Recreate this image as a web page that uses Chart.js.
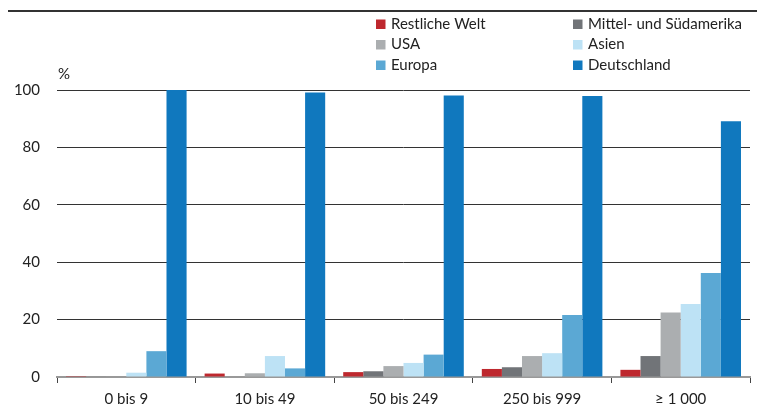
<!DOCTYPE html>
<html>
<head>
<meta charset="utf-8">
<script src="https://cdn.jsdelivr.net/npm/chart.js@4"></script>
<style>
html,body{margin:0;padding:0;background:#fff;}
#wrap{width:757px;height:408px;position:relative;}
</style>
</head>
<body>
<div id="wrap"><canvas id="c" width="757" height="408"></canvas></div>
<script>
const categories = ['0 bis 9', '10 bis 49', '50 bis 249', '250 bis 999', '\u2265 1 000'];
const seriesNames = ['Restliche Welt', 'Mittel- und Südamerika', 'USA', 'Asien', 'Europa', 'Deutschland'];
const restlicheWelt = [0.3, 1.2, 1.7, 2.8, 2.5];
const mittelSuedamerika = [0.2, 0, 2.0, 3.4, 7.3];
const usa = [0, 1.3, 3.8, 7.3, 22.5];
const asien = [1.5, 7.3, 4.9, 8.3, 25.4];
const europa = [9.0, 3.0, 7.8, 21.6, 36.2];
const deutschland = [100, 99.1, 98.1, 97.9, 89.1];
const yTicks = [0, 20, 40, 60, 80, 100];
const unitLabel = '%';

const colors = ['#be282e', '#717478', '#abaeb0', '#bde2f5', '#5ba8d4', '#1078be'];
const values = [restlicheWelt, mittelSuedamerika, usa, asien, europa, deutschland];
const FONT = 'Lato, "Open Sans", sans-serif';

const legendPlugin = {
  id: 'customLegend',
  afterDraw(chart) {
    const ctx = chart.ctx;
    ctx.save();
    // top rule
    ctx.strokeStyle = '#333';
    ctx.lineWidth = 2;
    ctx.beginPath();
    ctx.moveTo(8, 11);
    ctx.lineTo(757, 11);
    ctx.stroke();
    // legend
    const xs = [376, 573];
    const ys = [24, 44.5, 65];
    ctx.font = '15px ' + FONT;
    ctx.textBaseline = 'middle';
    ctx.textAlign = 'left';
    chart.data.datasets.forEach((ds, i) => {
      const x = xs[i % 2], y = ys[Math.floor(i / 2)];
      ctx.fillStyle = ds.backgroundColor;
      ctx.fillRect(x, y - 4.5, 9.5, 9.5);
      ctx.fillStyle = '#222';
      ctx.fillText(ds.label, x + 15, y);
    });
    // unit label
    ctx.fillText(unitLabel, 58, 74);
    ctx.restore();
  }
};

new Chart(document.getElementById('c'), {
  type: 'bar',
  data: {
    labels: categories,
    datasets: seriesNames.map((name, i) => ({
      label: name,
      data: values[i],
      backgroundColor: colors[i],
      borderWidth: 0,
      categoryPercentage: 0.87,
      barPercentage: 1.0
    }))
  },
  options: {
    responsive: false,
    animation: false,
    devicePixelRatio: 1,
    layout: { padding: { top: 90, right: 7, left: 0, bottom: 0 } },
    plugins: { legend: { display: false }, tooltip: { enabled: false }, title: { display: false } },
    scales: {
      x: {
        grid: { offset: true, drawOnChartArea: false, drawTicks: true, tickLength: 6, color: '#444', lineWidth: 1 },
        border: { display: true, color: '#999', width: 2 },
        ticks: { color: '#222', font: { family: FONT, size: 15 }, padding: 7 },
        afterFit(s) { s.height = 31; }
      },
      y: {
        min: 0, max: 100,
        afterBuildTicks(s) { s.ticks = yTicks.map(v => ({ value: v })); },
        grid: { drawTicks: false, color: ctx => ctx.tick && ctx.tick.value === 0 ? 'rgba(0,0,0,0)' : '#333', lineWidth: 1 },
        border: { display: false },
        ticks: { color: '#222', font: { family: FONT, size: 15 }, padding: 17 },
        afterFit(s) { s.width = 57; }
      }
    }
  },
  plugins: [legendPlugin]
});
</script>
</body>
</html>
